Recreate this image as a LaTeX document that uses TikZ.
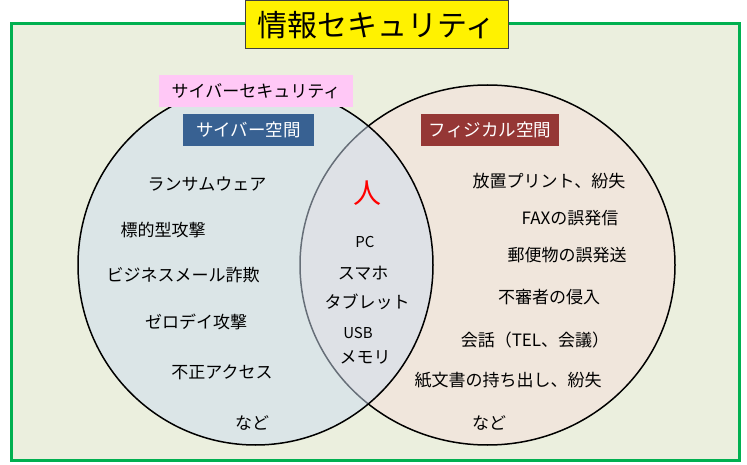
\documentclass[tikz,border=0pt]{standalone}
\usepackage{fontspec}
\setmainfont{Noto Sans CJK JP}
\usetikzlibrary{positioning}
\definecolor{framegreen}{HTML}{00B050}
\definecolor{bggreen}{HTML}{EBEFDE}
\definecolor{phyfill}{HTML}{F0E6DC}
\definecolor{cyberfill}{RGB}{205,221,241}
\definecolor{cyberblue}{HTML}{386192}
\definecolor{phyred}{HTML}{953735}
\definecolor{pinklabel}{HTML}{FFC8F6}
\tikzset{
  item/.style={inner sep=0pt, font=\fontsize{17}{20}\selectfont},
  smallitem/.style={inner sep=0pt, font=\fontsize{15}{18}\selectfont},
  areabox/.style={inner sep=0pt, minimum height=32pt, text=white, font=\fontsize{17.5}{20}\selectfont}
}
\begin{document}
\begin{tikzpicture}[x=1pt,y=-1pt]
\useasboundingbox (0,0) rectangle (747,465);
% frame
\draw[framegreen, line width=3pt, fill=bggreen] (11.5,23.5) rectangle (739.5,460.5);
% ellipses
\draw[line width=1.5pt, fill=phyfill] (487.5,265) ellipse [x radius=187.5, y radius=180];
\draw[line width=1.5pt, fill=cyberfill, fill opacity=0.5] (255.5,265) ellipse [x radius=177.5, y radius=180];
% title
\node[draw=black!75, line width=1pt, fill=yellow, minimum width=263pt, minimum height=48pt, inner sep=0pt,
  font=\fontsize{30}{33}\selectfont] (title) at (376.5,25) {情報セキュリティ};
\node[fill=pinklabel, minimum width=194pt, minimum height=32pt, inner sep=0pt,
  font=\fontsize{17}{20}\selectfont] (cyberlabel) at (256,91) {サイバーセキュリティ};
\node[areabox, fill=cyberblue, minimum width=131pt] (cyberspace) at (248.5,130) {サイバー空間};
\node[areabox, fill=phyred, minimum width=138pt] (physpace) at (490,130) {フィジカル空間};
% cyber side
\node[item] (ransom) at (207,184) {ランサムウェア};
\node[item] (targeted) at (163,230) {標的型攻撃};
\node[item] (bec) at (183,275) {ビジネスメール詐欺};
\node[item] (zeroday) at (196,322) {ゼロデイ攻撃};
\node[item] (unauth) at (222,372) {不正アクセス};
\node[item] (etcL) at (252,423) {など};
% common
\node[inner sep=0pt, text=red, font=\fontsize{28}{30}\selectfont] (human) at (367,193) {人};
\node[smallitem] (pc) at (365,242) {PC};
\node[item] (phone) at (363,273) {スマホ};
\node[item] (tablet) at (367,302) {タブレット};
\node[smallitem] (usb) at (358,333) {USB};
\node[item] (memory) at (365,357) {メモリ};
% physical side
\node[item] (printout) at (549,181) {放置プリント、紛失};
\node[item] (fax) at (570,218) {FAXの誤発信};
\node[item] (mail) at (567,255) {郵便物の誤発送};
\node[item] (intruder) at (549,297) {不審者の侵入};
\node[item] (talk) at (535,340) {会話（TEL、会議）};
\node[item] (paper) at (508,380) {紙文書の持ち出し、紛失};
\node[item] (etcR) at (489,423) {など};
\end{tikzpicture}
\end{document}
